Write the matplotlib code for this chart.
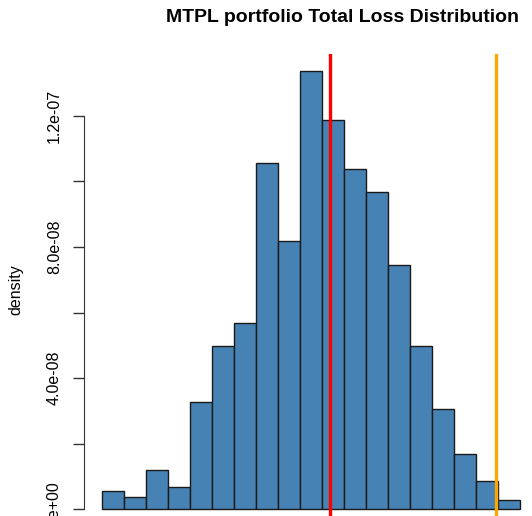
import matplotlib.pyplot as plt
import numpy as np

plt.rcParams['font.family'] = ['Liberation Sans', 'DejaVu Sans']

# histogram bins (total loss, bin width 1e6) and density heights
bin_edges = np.arange(4e6, 23e6 + 1, 1e6)
density = [0.55e-8, 0.37e-8, 1.19e-8, 0.67e-8, 3.27e-8, 4.98e-8, 5.68e-8,
           10.56e-8, 8.18e-8, 13.37e-8, 11.88e-8, 10.38e-8, 9.68e-8, 7.45e-8,
           4.98e-8, 3.05e-8, 1.68e-8, 0.85e-8, 0.27e-8]
mean_loss = 14.36e6
var_quantile = 21.9e6

yticks = [0, 2e-8, 4e-8, 6e-8, 8e-8, 10e-8, 12e-8]
ytick_labels = ["", "", "4.0e-08", "", "8.0e-08", "", "1.2e-07"]

W, H = 532, 516
fig = plt.figure(figsize=(W / 100, H / 100), dpi=100)
ax = fig.add_axes([84 / W, 0, 1 - 84 / W, (H - 54) / H])

widths = np.diff(bin_edges)
ax.bar(bin_edges[:-1], density, width=widths, align='edge',
       color='#4682B4', edgecolor='#1a1a1a', linewidth=1.0)
ax.axvline(mean_loss, color='#FF0000', linewidth=2.4)
ax.axvline(var_quantile, color='#FFA500', linewidth=2.4)

# pixel scale: 22 px per 1e6, 131 px per 4e-8
px_x = 1e6 / 22
px_y = 4e-8 / 131
ax.set_xlim(bin_edges[0] - 18 * px_x, bin_edges[0] + (W - 102) * px_x)
ax.set_ylim(-(516 - 509) * px_y, (509 - 54) * px_y)

for s in ['top', 'right', 'bottom']:
    ax.spines[s].set_visible(False)
ax.spines['left'].set_bounds(0, 12e-8)
ax.spines['left'].set_color('#333333')
ax.set_xticks([])
ax.set_yticks(yticks)
ax.set_yticklabels(ytick_labels)
ax.tick_params(axis='y', length=8, width=1, color='#333333', pad=8, labelsize=11.5)
plt.setp(ax.get_yticklabels(), rotation=90, va='center')

# bottom label sits a little above its tick and runs off the picture, as in the original
ax.annotate("0e+00", xy=(0, 0), xycoords=('axes fraction', 'data'),
            xytext=(-16, 4), textcoords='offset points',
            ha='right', va='center', rotation=90, fontsize=11.5,
            annotation_clip=False)

ax.set_ylabel('density', fontsize=11.5)
ax.yaxis.set_label_coords((23 - 84) / (W - 84), (516 - 290) / (H - 54))

fig.text(343 / W, 1 - 17 / H, 'MTPL portfolio Total Loss Distribution',
         ha='center', va='center', fontsize=14, fontweight='bold')

fig.savefig('out.png', dpi=100)
